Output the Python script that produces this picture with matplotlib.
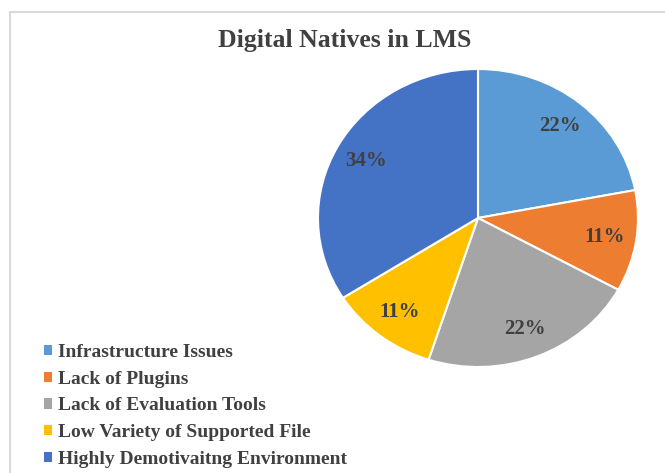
import matplotlib
matplotlib.use("Agg")
import matplotlib.pyplot as plt
from matplotlib.patches import Rectangle, Patch

categories = ["Infrastructure Issues", "Lack of Plugins", "Lack of Evaluation Tools",
              "Low Variety of Supported File", "Highly Demotivaitng Environment"]
values = [22, 11, 22, 11, 34]
colors = ["#5B9BD5", "#ED7D31", "#A5A5A5", "#FFC000", "#4472C4"]
title = "Digital Natives in LMS"

W, H = 665, 473
fig = plt.figure(figsize=(W / 100, H / 100), dpi=100)
fig.patch.set_facecolor("white")

serif = ["Liberation Serif", "DejaVu Serif"]
txtc = "#404040"

# chart border
fig.add_artist(Rectangle((10 / W, -0.05), 1.1, (H - 12) / H + 0.05, transform=fig.transFigure,
                         fill=False, edgecolor="#D9D9D9", linewidth=1.5))

# pie axes (slightly wider than tall, as in reference)
cx, cy, rx, ry = 478, 218, 160, 149
ax = fig.add_axes([(cx - rx) / W, (H - cy - ry) / H, 2 * rx / W, 2 * ry / H])
wedges, texts, autotexts = ax.pie(values, colors=colors, startangle=90, counterclock=False,
                                  autopct=lambda p: f"{p:.0f}%", pctdistance=0.8,
                                  wedgeprops=dict(edgecolor="white", linewidth=1.5))
for t in autotexts:
    t.set_fontfamily(serif)
    t.set_fontweight("bold")
    t.set_fontsize(15)
    t.set_color(txtc)
ax.set_aspect("auto")
ax.set_xlim(-1, 1)
ax.set_ylim(-1, 1)
ax.axis("off")

fig.text(345 / W, 1 - 41 / H, title, ha="center", va="center", fontfamily=serif,
         fontweight="bold", fontsize=18.5, color=txtc)

handles = [Patch(facecolor=c, edgecolor="none") for c in colors]
leg = fig.legend(handles, categories, loc="upper left", bbox_to_anchor=(44 / W, 1 - 344 / H),
                 frameon=False, handlelength=0.42, handleheight=0.42, handletextpad=0.3,
                 labelspacing=0.5, borderaxespad=0, borderpad=0,
                 prop=dict(family=serif, weight="bold", size=14))
for t in leg.get_texts():
    t.set_color(txtc)

fig.savefig("out.png", dpi=100, facecolor="white")
